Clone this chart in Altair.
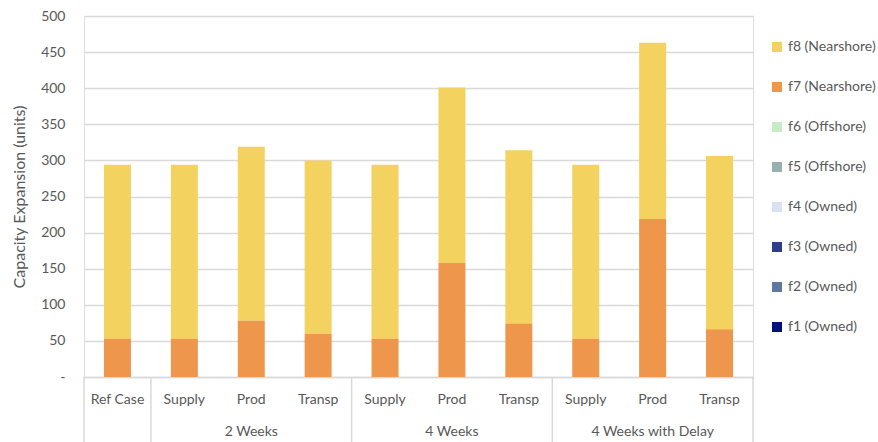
import altair as alt
import pandas as pd

# Scenario columns (lower axis row) and their groups (upper axis row)
scenarios = ["Ref Case", "Supply", "Prod", "Transp", "Supply", "Prod", "Transp",
             "Supply", "Prod", "Transp"]
group_names = ["2 Weeks", "4 Weeks", "4 Weeks with Delay"]
group_bounds = [1, 4, 7, 10]          # column index where each group starts / ends
separators = [0, 1, 4, 7, 10]

# Capacity expansion per facility (units)
f1_owned = [0, 0, 0, 0, 0, 0, 0, 0, 0, 0]
f2_owned = [0, 0, 0, 0, 0, 0, 0, 0, 0, 0]
f3_owned = [0, 0, 0, 0, 0, 0, 0, 0, 0, 0]
f4_owned = [0, 0, 0, 0, 0, 0, 0, 0, 0, 0]
f5_offshore = [0, 0, 0, 0, 0, 0, 0, 0, 0, 0]
f6_offshore = [0, 0, 0, 0, 0, 0, 0, 0, 0, 0]
f7_nearshore = [53, 53, 78, 60, 53, 158, 74, 53, 219, 66]
f8_nearshore = [241, 241, 241, 240, 241, 243, 240, 241, 244, 240]

series_names = ["f8 (Nearshore)", "f7 (Nearshore)", "f6 (Offshore)", "f5 (Offshore)",
                "f4 (Owned)", "f3 (Owned)", "f2 (Owned)", "f1 (Owned)"]
series_values = [f8_nearshore, f7_nearshore, f6_offshore, f5_offshore,
                 f4_owned, f3_owned, f2_owned, f1_owned]
series_colors = ["#F3D260", "#EE964C", "#C7EBC5", "#97B2AE",
                 "#D9E2F3", "#2E3E8E", "#60779F", "#00127E"]

FONT = "Lato"
TEXT = "#595959"
GRID = "#D9D9D9"
W, H = 669, 361

rows = []
for stack_pos, (name, vals) in enumerate(zip(series_names, series_values)):
    for i, v in enumerate(vals):
        rows.append({"pos": i + 0.5, "series": name, "value": v,
                     "stack": len(series_names) - stack_pos})
bars_df = pd.DataFrame(rows)

labels_df = pd.DataFrame({"pos": [i + 0.5 for i in range(len(scenarios))],
                          "label": scenarios})
groups_df = pd.DataFrame({"pos": [(a + b) / 2 for a, b in zip(group_bounds[:-1], group_bounds[1:])],
                          "label": group_names})
sep_df = pd.DataFrame({"pos": separators})

x_scale = alt.Scale(domain=[0, 10], nice=False, zero=False, padding=0)

bars = alt.Chart(bars_df).mark_bar(size=27).encode(
    x=alt.X("pos:Q", scale=x_scale,
            axis=alt.Axis(labels=False, ticks=False, grid=False, title=None,
                          domainColor=GRID, domainWidth=1.5)),
    y=alt.Y("value:Q", stack="zero",
            scale=alt.Scale(domain=[0, 500], nice=False),
            axis=alt.Axis(values=list(range(0, 501, 50)), grid=True, gridColor=GRID,
                          gridWidth=1.5, domain=False, ticks=False,
                          labelExpr="datum.value == 0 ? '-\u00a0\u00a0\u00a0' : datum.label",
                          labelFont=FONT, labelFontSize=14, labelColor=TEXT,
                          labelPadding=19,
                          title="Capacity Expansion (units)", titleFont=FONT,
                          titleFontSize=16, titleFontWeight="normal",
                          titleColor=TEXT, titlePadding=13)),
    color=alt.Color("series:N",
                    scale=alt.Scale(domain=series_names, range=series_colors),
                    legend=alt.Legend(title=None, orient="none", legendX=686, legendY=24,
                                      symbolType="square", symbolSize=100,
                                      symbolStrokeWidth=0, labelFont=FONT,
                                      labelFontSize=14, labelColor=TEXT,
                                      rowPadding=26, labelOffset=4)),
    order=alt.Order("stack:Q", sort="ascending"),
)

separators_layer = alt.Chart(sep_df).mark_rule(color=GRID, strokeWidth=1.5).encode(
    x=alt.X("pos:Q", scale=x_scale),
    y=alt.value(H),
    y2=alt.value(H + 70),
)

scenario_text = alt.Chart(labels_df).mark_text(
    font=FONT, fontSize=14, color=TEXT, baseline="middle", align="center"
).encode(x=alt.X("pos:Q", scale=x_scale), y=alt.value(384), text="label:N")

group_text = alt.Chart(groups_df).mark_text(
    font=FONT, fontSize=14, color=TEXT, baseline="middle", align="center"
).encode(x=alt.X("pos:Q", scale=x_scale), y=alt.value(416), text="label:N")

chart = alt.layer(bars, separators_layer, scenario_text, group_text).properties(
    width=W, height=H,
    autosize=alt.AutoSizeParams(type="none"),
    padding={"left": 84, "top": 16, "right": 125, "bottom": 65},
).configure_view(stroke=None).configure(background="white")

chart.save("out.html", embed_options={"renderer": "svg", "actions": False})
